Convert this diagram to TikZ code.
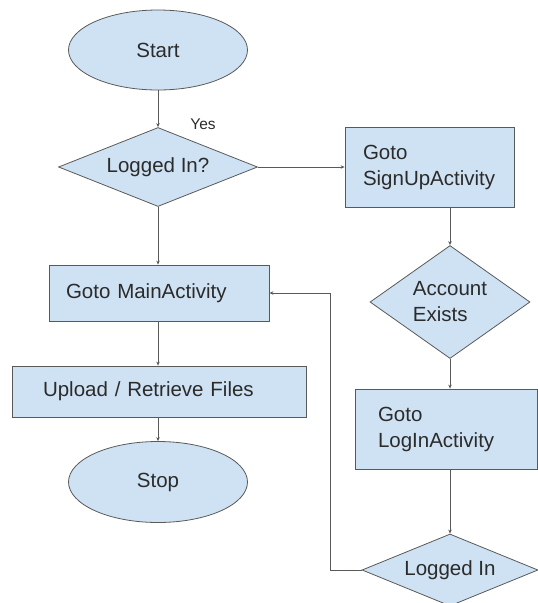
\documentclass[tikz,border=0pt]{standalone}
\usepackage{fontspec}
\setmainfont{Liberation Sans}
\usepackage{xcolor}
\usepackage{tikz}
\usetikzlibrary{shapes,arrows,positioning,calc,arrows.meta}
\definecolor{boxblue}{HTML}{CFE2F3}
\definecolor{edgegray}{HTML}{595959}
\definecolor{textgray}{HTML}{2B2B2B}

\begin{document}
\begin{tikzpicture}[x=1pt, y=-1pt,
    >={Stealth[length=4pt,width=3.5pt]},
    every node/.style={text=textgray, font=\fontsize{20.5}{26}\selectfont},
    terminal/.style={ellipse, draw=edgegray, fill=boxblue, line width=0.8pt, minimum width=179pt, minimum height=80pt},
    decision/.style={diamond, draw=edgegray, fill=boxblue, line width=0.8pt, inner sep=0pt, align=left},
    process/.style={rectangle, draw=edgegray, fill=boxblue, line width=0.8pt, align=left, inner ysep=0pt},
    flow/.style={->, draw=edgegray, line width=0.7pt}]
    \useasboundingbox (0,0) rectangle (538,603);
    % left column
    \node[terminal] (start) at (158,50) {Start};
    \node[decision, aspect=2.5, minimum width=199pt, minimum height=79pt] (loggedq) at (158,167) {Logged In?};
    \node[font=\fontsize{15.5}{18}\selectfont] (yes) at (203,124) {Yes};
    \node[process, minimum height=56pt, inner xsep=17pt, text width=186pt] (main) at (159,293) {Goto MainActivity};
    \node[process, minimum height=51pt, inner xsep=31pt, text width=232pt] (upload) at (159,391.5) {Upload / Retrieve Files};
    \node[terminal, minimum height=81pt] (stop) at (158,482) {Stop};
    % right column
    \node[process, minimum height=80pt, inner xsep=18pt, text width=133pt] (signup) at (429.5,167) {Goto\\SignUpActivity};
    \node[decision, aspect=1.4, minimum width=160pt, minimum height=113pt] (exists) at (450,302) {Account\\Exists};
    \node[process, minimum height=80pt, inner xsep=23pt, text width=136pt] (loginact) at (446,429) {Goto\\LogInActivity};
    \node[decision, aspect=2.4, minimum width=176pt, minimum height=72pt] (loggedin) at (450,570) {Logged In};
    % connectors
    \draw[flow] (start) -- (loggedq);
    \draw[flow] (loggedq.east) -- (signup.west);
    \draw[flow] (loggedq.south) -- (loggedq.south |- main.north);
    \draw[flow] (main.south -| loggedq.south) -- (loggedq.south |- upload.north);
    \draw[flow] (upload.south -| stop.north) -- (stop.north);
    \draw[flow] (exists.north |- signup.south) -- (exists.north);
    \draw[flow] (exists.south) -- (exists.south |- loginact.north);
    \draw[flow] (loggedin.north |- loginact.south) -- (loggedin.north);
    % back to main activity
    \draw[flow] (loggedin.west) -- ++(-31,0) |- (main.east);
\end{tikzpicture}
\end{document}
